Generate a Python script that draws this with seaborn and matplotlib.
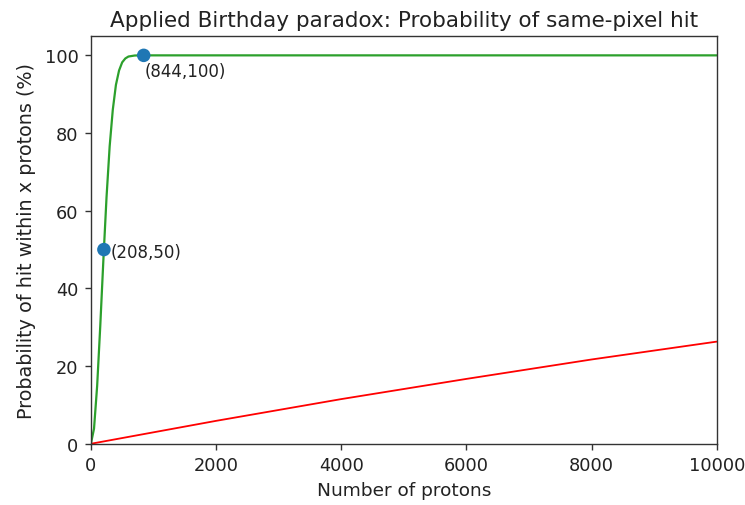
import matplotlib
matplotlib.use("Agg")
import matplotlib.pyplot as plt
import seaborn as sns
import pandas as pd

# Collision probability (any two protons on the same pixel)
same_pixel_x = [0, 50, 100, 150, 200, 250, 300, 350, 400, 450, 500, 550, 600, 700, 800, 900, 1000, 10000]
same_pixel_p = [0, 3.9, 14.9, 30.4, 47.5, 63.5, 76.6, 86.0, 92.4, 96.1, 98.2, 99.2, 99.7, 99.96, 100, 100, 100, 100]

# Probability that one given pixel is hit
one_pixel_x = [0, 2000, 4000, 6000, 8000, 10000]
one_pixel_p = [0, 5.9, 11.5, 16.7, 21.7, 26.3]

# Highlighted points
mark_x = [208, 844]
mark_p = [50, 100]
mark_text = ["(208,50)", "(844,100)"]

sns.set_style("ticks")
plt.rcParams["font.family"] = ["DejaVu Sans"]

fig = plt.figure(figsize=(7.45, 5.06), dpi=100)
ax = fig.add_axes([0.122, 0.121, 0.840, 0.806])

same_df = pd.DataFrame({"protons": same_pixel_x, "p": same_pixel_p})
one_df = pd.DataFrame({"protons": one_pixel_x, "p": one_pixel_p})
mark_df = pd.DataFrame({"protons": mark_x, "p": mark_p})

sns.lineplot(data=same_df, x="protons", y="p", color="#2ca02c", linewidth=1.6, ax=ax)
sns.lineplot(data=one_df, x="protons", y="p", color="red", linewidth=1.3, ax=ax)
sns.scatterplot(data=mark_df, x="protons", y="p", color="#1f77b4", s=95,
                edgecolor="none", zorder=5, ax=ax, clip_on=False)

ax.annotate(mark_text[0], (mark_x[0], mark_p[0]), xytext=(5, -2),
            textcoords="offset points", ha="left", va="center", fontsize=12, color="#222222")
ax.annotate(mark_text[1], (mark_x[1], mark_p[1]), xytext=(1, -11),
            textcoords="offset points", ha="left", va="center", fontsize=12, color="#222222")

ax.set_xlim(0, 10000)
ax.set_ylim(0, 105)
ax.set_xticks([0, 2000, 4000, 6000, 8000, 10000])
ax.set_yticks([0, 20, 40, 60, 80, 100])
ax.tick_params(labelsize=12.8, length=4.5, width=1.0, pad=4.5, color="#333333", labelcolor="#222222")
for s in ax.spines.values():
    s.set_visible(True)
    s.set_color("#333333")
    s.set_linewidth(1.0)

ax.set_title("Applied Birthday paradox: Probability of same-pixel hit", fontsize=15.5,
             color="#222222", pad=7.5)
ax.set_xlabel("Number of protons", fontsize=13.3, color="#222222", labelpad=5)
ax.set_ylabel("Probability of hit within x protons (%)", fontsize=13.8, color="#222222", labelpad=6)

fig.savefig("out.png", dpi=100)
